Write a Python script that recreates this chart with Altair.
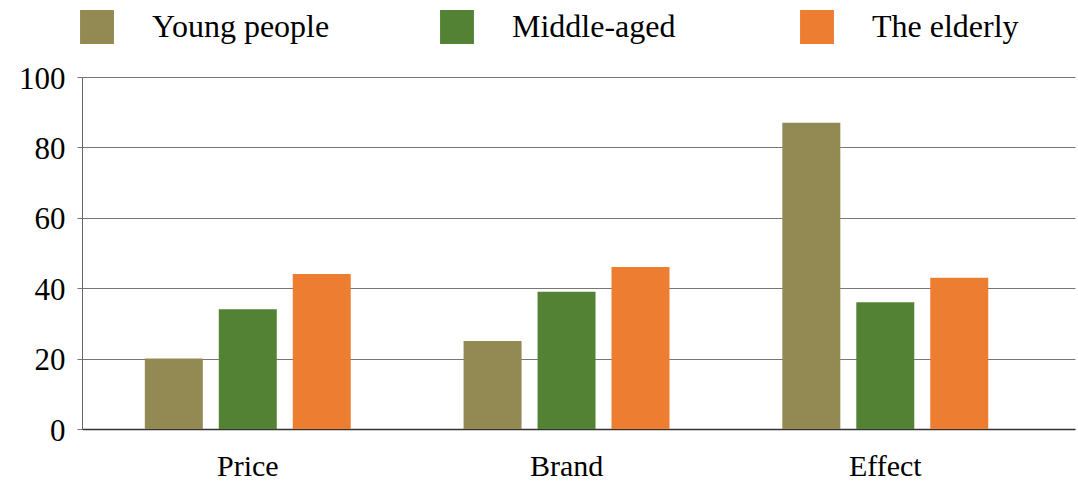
import altair as alt
import pandas as pd

# Survey factors and respondent groups
aspects = ["Price", "Brand", "Effect"]
groups = ["Young people", "Middle-aged", "The elderly"]
young = [20, 25, 87]
middle = [34, 39, 36]
elderly = [44, 46, 43]
colors = ["#938953", "#548235", "#ED7D31"]
y_ticks = [0, 20, 40, 60, 80, 100]

rows = []
for g, vals in zip(groups, [young, middle, elderly]):
    for a, v in zip(aspects, vals):
        rows.append({"aspect": a, "group": g, "value": v})
df = pd.DataFrame(rows)
labels_df = pd.DataFrame({"aspect": aspects})

FONT = "Liberation Serif"
PLOT_H = 352

x_enc = alt.X(
    "aspect:N",
    sort=aspects,
    scale=alt.Scale(paddingInner=0.354, paddingOuter=0.2346, align=0.42),
    axis=alt.Axis(
        title=None, labels=False, ticks=False, domainColor="#333333",
        domainWidth=1.5,
    ),
)

bars = alt.Chart(df).mark_bar().encode(
    x=x_enc,
    xOffset=alt.XOffset(
        "group:N", sort=groups,
        scale=alt.Scale(paddingInner=0.216, paddingOuter=0),
    ),
    y=alt.Y(
        "value:Q",
        scale=alt.Scale(domain=[0, 100]),
        axis=alt.Axis(
            title=None, values=y_ticks, tickSize=5, tickColor="#777777",
            domainColor="#666666", gridColor="#777777", gridWidth=1.2,
            labelFontSize=31, labelColor="#000000",
            labelPadding=12, labelOffset=2,
        ),
    ),
    color=alt.Color(
        "group:N",
        sort=groups,
        scale=alt.Scale(domain=groups, range=colors),
        legend=alt.Legend(
            title=None, orient="none", legendX=-2, legendY=-67,
            direction="horizontal", columns=3, gridAlign="all",
            symbolType="square", symbolSize=1150, symbolStrokeWidth=0,
            symbolOpacity=1, labelFontSize=32,
            labelColor="#000000", labelOffset=38, columnPadding=110,
            labelLimit=400,
        ),
    ),
)

# Category names under each group of bars
cat_labels = alt.Chart(labels_df).mark_text(
    font=FONT, fontSize=30, color="#000000", baseline="alphabetic",
    align="center",
).encode(
    x=x_enc,
    y=alt.value(PLOT_H + 47),
    text="aspect:N",
)

chart = alt.layer(bars, cat_labels).properties(
    width=993,
    height=PLOT_H,
    autosize=alt.AutoSizeParams(type="none"),
    padding={"left": 82, "top": 77, "right": 3, "bottom": 53},
).configure(
    font=FONT
).configure_axis(
    labelFont=FONT
).configure_legend(
    labelFont=FONT
).configure_view(strokeWidth=0)

chart.save("out.html", embed_options={"renderer": "svg", "actions": False})
